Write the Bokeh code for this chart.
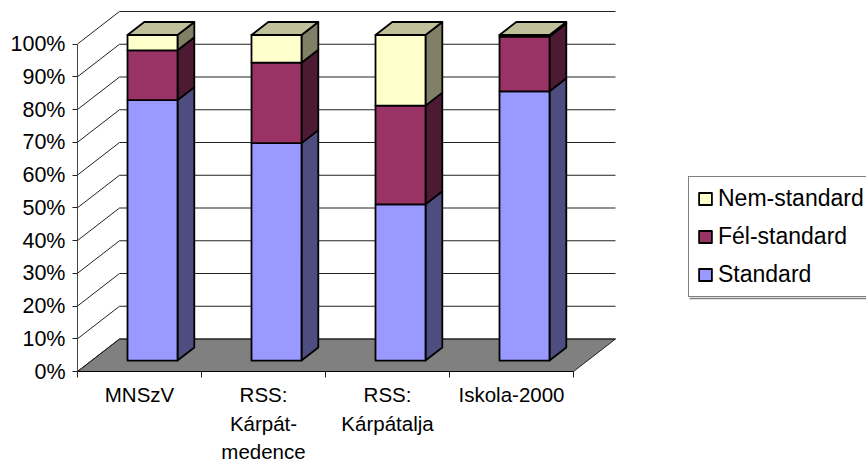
from bokeh.embed import file_html
from bokeh.resources import INLINE
from bokeh.plotting import figure
from bokeh.models import FixedTicker, Range1d, Legend, LegendItem
from bokeh.core.properties import value

categories = ["MNSzV", "RSS:\nKárpát-\nmedence", "RSS:\nKárpátalja", "Iskola-2000"]
standard = [80.0, 66.8, 48.0, 82.7]
fel_standard = [15.3, 24.7, 30.3, 16.8]
nem_standard = [4.7, 8.5, 21.7, 0.5]
series_names = ["Standard", "Fél-standard", "Nem-standard"]
y_ticks = list(range(0, 101, 10))

FRONT = ["#9999FF", "#993366", "#FFFFCC"]
SIDE = ["#4D4D80", "#4D1A33", "#808066"]
TOP = "#C0C09A"
FONT = "Liberation Sans"

W, H = 866, 463
PX_X, PX_Y = 124.0, 3.275          # pixels per category / per percent
X0, Y0 = 77, 371                   # canvas position of the axes' origin
DX, DY = 42 / PX_X, 32.5 / PX_Y    # full depth of the 3-D box in data units
BAR_W = 50 / PX_X
OFFS = 50 / PX_X                   # bar's front-left edge within its slot
D0, D1 = 0.3, 0.7                  # bar's depth span
BAR_SCALE = 0.994                  # perspective shrink of the bars


p = figure(width=W, height=H, output_backend="svg", toolbar_location=None,
           x_range=Range1d(-X0 / PX_X, (W - X0) / PX_X),
           y_range=Range1d(-(H - Y0) / PX_Y, Y0 / PX_Y),
           min_border=0, outline_line_color=None)
p.grid.visible = False

# floor
p.patch([0, DX, 4 + DX, 4], [0, DY, DY, 0], fill_color="#808080", line_color="#222222", line_width=1)

# walls
for t in y_ticks:
    p.line([0, DX, 4 + DX], [t, t + DY, t + DY], line_color="#222222", line_width=1)

# bars
legend_refs = [None, None, None]
dbx = DX * (D1 - D0)
dby = DY * (D1 - D0)
base = DY * D0 + 1.2 / PX_Y
for i in range(4):
    bottom = 0.0
    vals = [standard[i], fel_standard[i], nem_standard[i]]
    xl = i + OFFS
    xr = xl + BAR_W
    for s, v in enumerate(vals):
        top = bottom + v * BAR_SCALE
        yb, yt = base + bottom, base + top
        p.patch([xr, xr + dbx, xr + dbx, xr], [yb, yb + dby, yt + dby, yt], fill_color=SIDE[s],
                line_color="black", line_width=1.8, line_join="round")
        r = p.patch([xl, xr, xr, xl], [yb, yb, yt, yt],
                    fill_color=FRONT[s], line_color="black", line_width=1.8, line_join="round")
        legend_refs[s] = r
        bottom = top
    yt = base + bottom
    p.patch([xl, xr, xr + dbx, xl + dbx], [yt, yt, yt + dby, yt + dby], fill_color=TOP,
            line_color="black", line_width=1.8, line_join="round")

# axes placed on the front plane
xa = p.xaxis[0]
xa.fixed_location = 0
xa.bounds = (0, 4)
xa.ticker = FixedTicker(ticks=[], minor_ticks=[0, 1, 2, 3, 4])
xa.minor_tick_in = 0
xa.minor_tick_out = 6
xa.minor_tick_line_color = "#222222"
xa.axis_line_color = "black"

ya = p.yaxis[0]
ya.fixed_location = 0
ya.bounds = (0, 100)
ya.ticker = FixedTicker(ticks=y_ticks)
ya.major_label_overrides = {t: f"{t}%" for t in y_ticks}
ya.major_label_text_font = FONT
ya.major_label_text_font_size = "21.5px"
ya.major_label_text_color = "black"
ya.major_label_standoff = 7
ya.major_tick_in = 0
ya.major_tick_out = 5
ya.minor_tick_line_color = None
ya.axis_line_color = "#444444"
ya.major_tick_line_color = "#222222"

# category labels, one line per row
for i, c in enumerate(categories):
    for j, line in enumerate(c.split("\n")):
        p.text([i + 0.5], [-(23 + 28.5 * j) / PX_Y], text=[line],
               text_font=value(FONT), text_font_size="20.5px", text_color="black",
               text_align="center", text_baseline="middle")

# soft shadow below the legend box
p.line([(689 - X0) / PX_X, (W - X0) / PX_X], [(Y0 - 298) / PX_Y] * 2, line_color="#808080", line_width=1.5)

legend = Legend(items=[LegendItem(label=series_names[s], renderers=[legend_refs[s]]) for s in (2, 1, 0)],
                location=(688, H - 297), orientation="vertical",
                label_text_font=FONT, label_text_font_size="23px", label_text_color="black",
                glyph_width=16, glyph_height=15, spacing=11, padding=8, margin=0,
                label_standoff=5, border_line_color="black", border_line_width=1,
                background_fill_alpha=1, label_height=24)
p.add_layout(legend, "center")

open("out.html", "w").write(file_html(p, INLINE))
